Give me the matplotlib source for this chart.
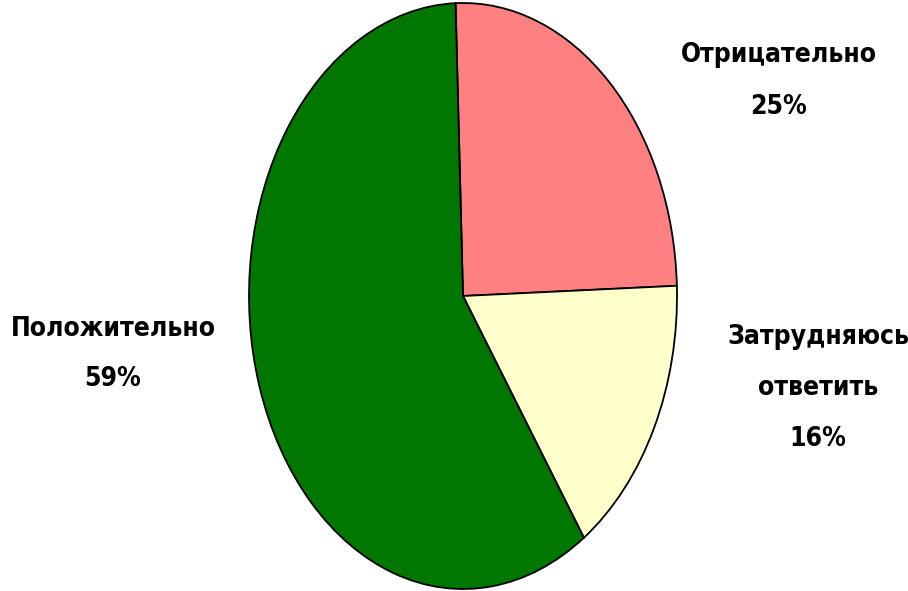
import matplotlib
matplotlib.use("Agg")
import matplotlib.pyplot as plt

categories = ["Отрицательно", "Затрудняюсь\nответить", "Положительно"]
values = [25, 16, 59]
colors = ["#FF8080", "#FFFFCC", "#007700"]

fig = plt.figure(figsize=(9.08, 5.91), dpi=100)
ax = fig.add_axes([(463 - 214) / 908, 2 / 591, 428 / 908, 586 / 591])
ax.pie(values, colors=colors, startangle=92, counterclock=False,
       wedgeprops=dict(edgecolor="black", linewidth=1.3))
ax.set_aspect("auto")
ax.set_xlim(-1, 1)
ax.set_ylim(-1, 1)
ax.axis("off")

label_pos = [(779, 81), (818, 388), (113, 354)]
for (x, y), name, v in zip(label_pos, categories, values):
    fig.text(x / 908, 1 - y / 591, f"{name}\n{v}%", ha="center", va="center",
             fontsize=19, fontweight="bold", fontstretch="condensed",
             family=["DejaVu Sans"], linespacing=2.25, color="black")

fig.savefig("out.png", dpi=100)
